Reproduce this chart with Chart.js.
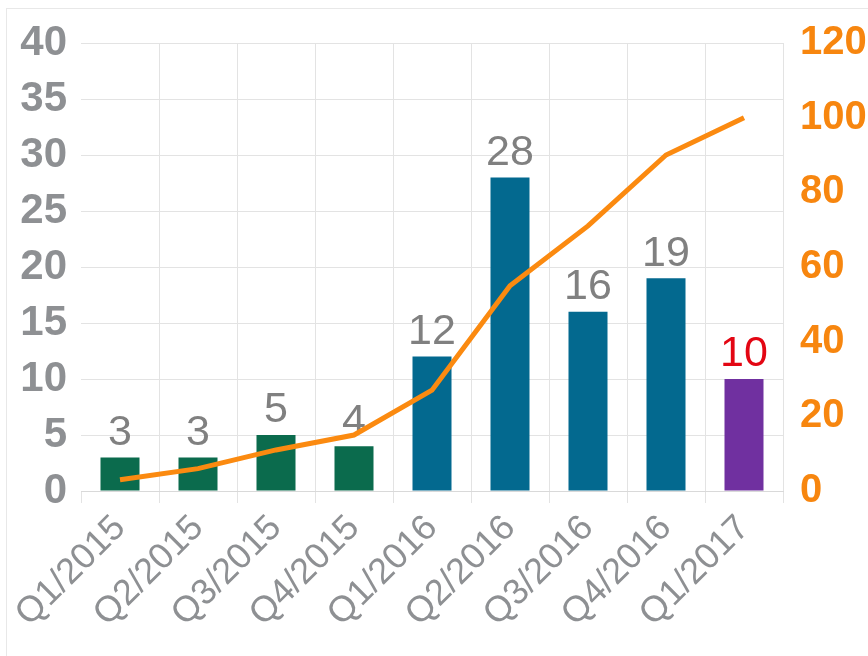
<!DOCTYPE html>
<html>
<head>
<meta charset="utf-8">
<script src="https://cdn.jsdelivr.net/npm/chart.js@4.4.1/dist/chart.umd.min.js"></script>
<style>
  html, body { margin: 0; padding: 0; background: #fff; }
  #wrap { position: relative; width: 868px; height: 656px; }
  #frame { position: absolute; left: 6px; top: 8px; right: 0; bottom: 0;
           border-top: 1px solid #e8e8e8; border-left: 1px solid #e8e8e8; }
  canvas { position: absolute; left: 0; top: 0; }
</style>
</head>
<body>
<div id="wrap">
  <div id="frame"></div>
  <canvas id="chart" width="868" height="656"></canvas>
</div>
<script>
// dados
var quarters = ["Q1/2015", "Q2/2015", "Q3/2015", "Q4/2015", "Q1/2016", "Q2/2016", "Q3/2016", "Q4/2016", "Q1/2017"];
var counts = [3, 3, 5, 4, 12, 28, 16, 19, 10];
var cumulative = [3, 6, 11, 15, 27, 55, 71, 90, 100];
var barColors = ["#0b6b4d", "#0b6b4d", "#0b6b4d", "#0b6b4d", "#03698f", "#03698f", "#03698f", "#03698f", "#7030a0"];
var labelColors = ["#808080", "#808080", "#808080", "#808080", "#808080", "#808080", "#808080", "#808080", "#e30613"];
var leftTicks = [0, 5, 10, 15, 20, 25, 30, 35, 40];
var rightTicks = [0, 20, 40, 60, 80, 100, 120];

var FONT = "'Liberation Sans', Arial, sans-serif";
var GRID = "#e3e3e3";

var barLabelsPlugin = {
  id: "barLabels",
  afterDatasetDraw: function (chart, args) {
    if (args.index !== 0) return;
    var ctx = chart.ctx;
    var meta = chart.getDatasetMeta(0);
    ctx.save();
    ctx.font = "43px " + FONT;
    ctx.textAlign = "center";
    ctx.textBaseline = "bottom";
    meta.data.forEach(function (bar, i) {
      ctx.fillStyle = labelColors[i];
      ctx.fillText(String(counts[i]), bar.x, bar.y - 3);
    });
    ctx.restore();
  }
};

new Chart(document.getElementById("chart"), {
  data: {
    labels: quarters,
    datasets: [
      {
        type: "bar",
        data: counts,
        backgroundColor: barColors,
        yAxisID: "y",
        categoryPercentage: 1,
        barPercentage: 0.5,
        order: 2
      },
      {
        type: "line",
        data: cumulative,
        borderColor: "#fb8a10",
        borderWidth: 5,
        pointRadius: 0,
        tension: 0,
        yAxisID: "y1",
        order: 1
      }
    ]
  },
  options: {
    responsive: false,
    animation: false,
    layout: { padding: { top: 43, left: 0, right: 0, bottom: 0 } },
    plugins: { legend: { display: false }, tooltip: { enabled: false } },
    scales: {
      x: {
        offset: true,
        grid: {
          offset: true,
          color: function (c) {
            return (c.index === 0 || c.index === quarters.length) ? "rgba(0,0,0,0)" : GRID;
          },
          tickColor: GRID,
          tickLength: 12,
          drawTicks: true
        },
        border: { display: true, color: "#d9d9d9", width: 1 },
        ticks: {
          color: "#8e9093",
          font: { family: FONT, size: 36 },
          minRotation: 45,
          maxRotation: 45,
          padding: 4,
          autoSkip: false
        },
        afterFit: function (s) { s.height = 165; }
      },
      y: {
        position: "left",
        min: 0,
        max: 40,
        afterBuildTicks: function (s) { s.ticks = leftTicks.map(function (v) { return { value: v }; }); },
        grid: { color: GRID, drawTicks: false },
        border: { display: false },
        ticks: {
          color: "#8e9093",
          padding: 14,
          font: { family: FONT, size: 42, weight: "bold" }
        },
        afterFit: function (s) { s.width = 81; }
      },
      y1: {
        position: "right",
        min: 0,
        max: 120,
        afterBuildTicks: function (s) { s.ticks = rightTicks.map(function (v) { return { value: v }; }); },
        grid: { display: false, drawTicks: false },
        border: { display: false },
        ticks: {
          color: "#f7860f",
          padding: 17,
          font: { family: FONT, size: 40, weight: "bold" }
        },
        afterFit: function (s) { s.width = 85; }
      }
    }
  },
  plugins: [barLabelsPlugin]
});
</script>
</body>
</html>
